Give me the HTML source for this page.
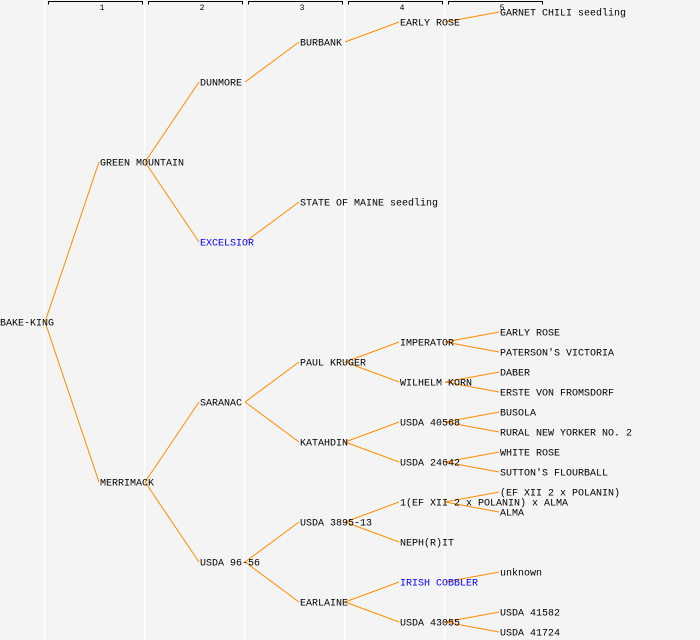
<!DOCTYPE html>
<html><head><meta charset="utf-8"><style>
html,body{margin:0;padding:0;background:#f4f4f4;}
svg{display:block;}
text{font-family:"Liberation Mono","DejaVu Sans Mono",monospace;font-size:10px;fill:#000;}
.h{font-size:8px;}
.b{fill:#0000ff;}
</style></head><body>
<svg width="700" height="640" xmlns="http://www.w3.org/2000/svg">
<rect width="700" height="640" fill="#f4f4f4"/>
<g stroke="#fff" stroke-width="1.5">
<line x1="44.5" y1="0" x2="44.5" y2="640"/><line x1="144.5" y1="0" x2="144.5" y2="640"/><line x1="244.5" y1="0" x2="244.5" y2="640"/><line x1="344.5" y1="0" x2="344.5" y2="640"/><line x1="444.5" y1="0" x2="444.5" y2="640"/>
</g>
<g stroke="#000" stroke-width="1" fill="none">
<path d="M48.5 4.5V1.5H142.5V4.5"/><path d="M148.5 4.5V1.5H242.5V4.5"/><path d="M248.5 4.5V1.5H342.5V4.5"/><path d="M348.5 4.5V1.5H442.5V4.5"/><path d="M448.5 4.5V1.5H542.5V4.5"/>
</g>
<g text-anchor="middle">
<text class="h" x="102" y="10">1</text><text class="h" x="202" y="10">2</text><text class="h" x="302" y="10">3</text><text class="h" x="402" y="10">4</text><text class="h" x="502" y="10">5</text>
</g>
<g stroke="#ff8c00" stroke-width="1" fill="none">
<line x1="45" y1="322" x2="99" y2="162"/><line x1="45" y1="322" x2="99" y2="482"/>
<line x1="145" y1="162" x2="199" y2="82"/><line x1="145" y1="162" x2="199" y2="242"/>
<line x1="145" y1="482" x2="199" y2="402"/><line x1="145" y1="482" x2="199" y2="562"/>
<line x1="245" y1="82" x2="299" y2="42"/><line x1="245" y1="242" x2="299" y2="202"/>
<line x1="245" y1="402" x2="299" y2="362"/><line x1="245" y1="402" x2="299" y2="442"/>
<line x1="245" y1="562" x2="299" y2="522"/><line x1="245" y1="562" x2="299" y2="602"/>
<line x1="345" y1="42" x2="399" y2="22"/>
<line x1="345" y1="362" x2="399" y2="342"/><line x1="345" y1="362" x2="399" y2="382"/>
<line x1="345" y1="442" x2="399" y2="422"/><line x1="345" y1="442" x2="399" y2="462"/>
<line x1="345" y1="522" x2="399" y2="502"/><line x1="345" y1="522" x2="399" y2="542"/>
<line x1="345" y1="602" x2="399" y2="582"/><line x1="345" y1="602" x2="399" y2="622"/>
<line x1="445" y1="22" x2="499" y2="12"/>
<line x1="445" y1="342" x2="499" y2="332"/><line x1="445" y1="342" x2="499" y2="352"/>
<line x1="445" y1="382" x2="499" y2="372"/><line x1="445" y1="382" x2="499" y2="392"/>
<line x1="445" y1="422" x2="499" y2="412"/><line x1="445" y1="422" x2="499" y2="432"/>
<line x1="445" y1="462" x2="499" y2="452"/><line x1="445" y1="462" x2="499" y2="472"/>
<line x1="445" y1="502" x2="499" y2="492"/><line x1="445" y1="502" x2="499" y2="512"/>
<line x1="445" y1="582" x2="499" y2="572"/>
<line x1="445" y1="622" x2="499" y2="612"/><line x1="445" y1="622" x2="499" y2="632"/>
</g>
<g transform="translate(0,-0.5)">
<text x="0" y="326">BAKE-KING</text>
<text x="100" y="166">GREEN MOUNTAIN</text>
<text x="100" y="486">MERRIMACK</text>
<text x="200" y="86">DUNMORE</text>
<text x="200" y="246" class="b">EXCELSIOR</text>
<text x="200" y="406">SARANAC</text>
<text x="200" y="566">USDA 96-56</text>
<text x="300" y="46">BURBANK</text>
<text x="300" y="206">STATE OF MAINE seedling</text>
<text x="300" y="366">PAUL KRUGER</text>
<text x="300" y="446">KATAHDIN</text>
<text x="300" y="526">USDA 3895-13</text>
<text x="300" y="606">EARLAINE</text>
<text x="400" y="26">EARLY ROSE</text>
<text x="400" y="346">IMPERATOR</text>
<text x="400" y="386">WILHELM KORN</text>
<text x="400" y="426">USDA 40568</text>
<text x="400" y="466">USDA 24642</text>
<text x="400" y="506">1(EF XII 2 x POLANIN) x ALMA</text>
<text x="400" y="546">NEPH(R)IT</text>
<text x="400" y="586" class="b">IRISH COBBLER</text>
<text x="400" y="626">USDA 43055</text>
<text x="500" y="16">GARNET CHILI seedling</text>
<text x="500" y="336">EARLY ROSE</text>
<text x="500" y="356">PATERSON'S VICTORIA</text>
<text x="500" y="376">DABER</text>
<text x="500" y="396">ERSTE VON FROMSDORF</text>
<text x="500" y="416">BUSOLA</text>
<text x="500" y="436">RURAL NEW YORKER NO. 2</text>
<text x="500" y="456">WHITE ROSE</text>
<text x="500" y="476">SUTTON'S FLOURBALL</text>
<text x="500" y="496">(EF XII 2 x POLANIN)</text>
<text x="500" y="516">ALMA</text>
<text x="500" y="576">unknown</text>
<text x="500" y="616">USDA 41582</text>
<text x="500" y="636">USDA 41724</text>
</g>
</svg>
</body></html>
